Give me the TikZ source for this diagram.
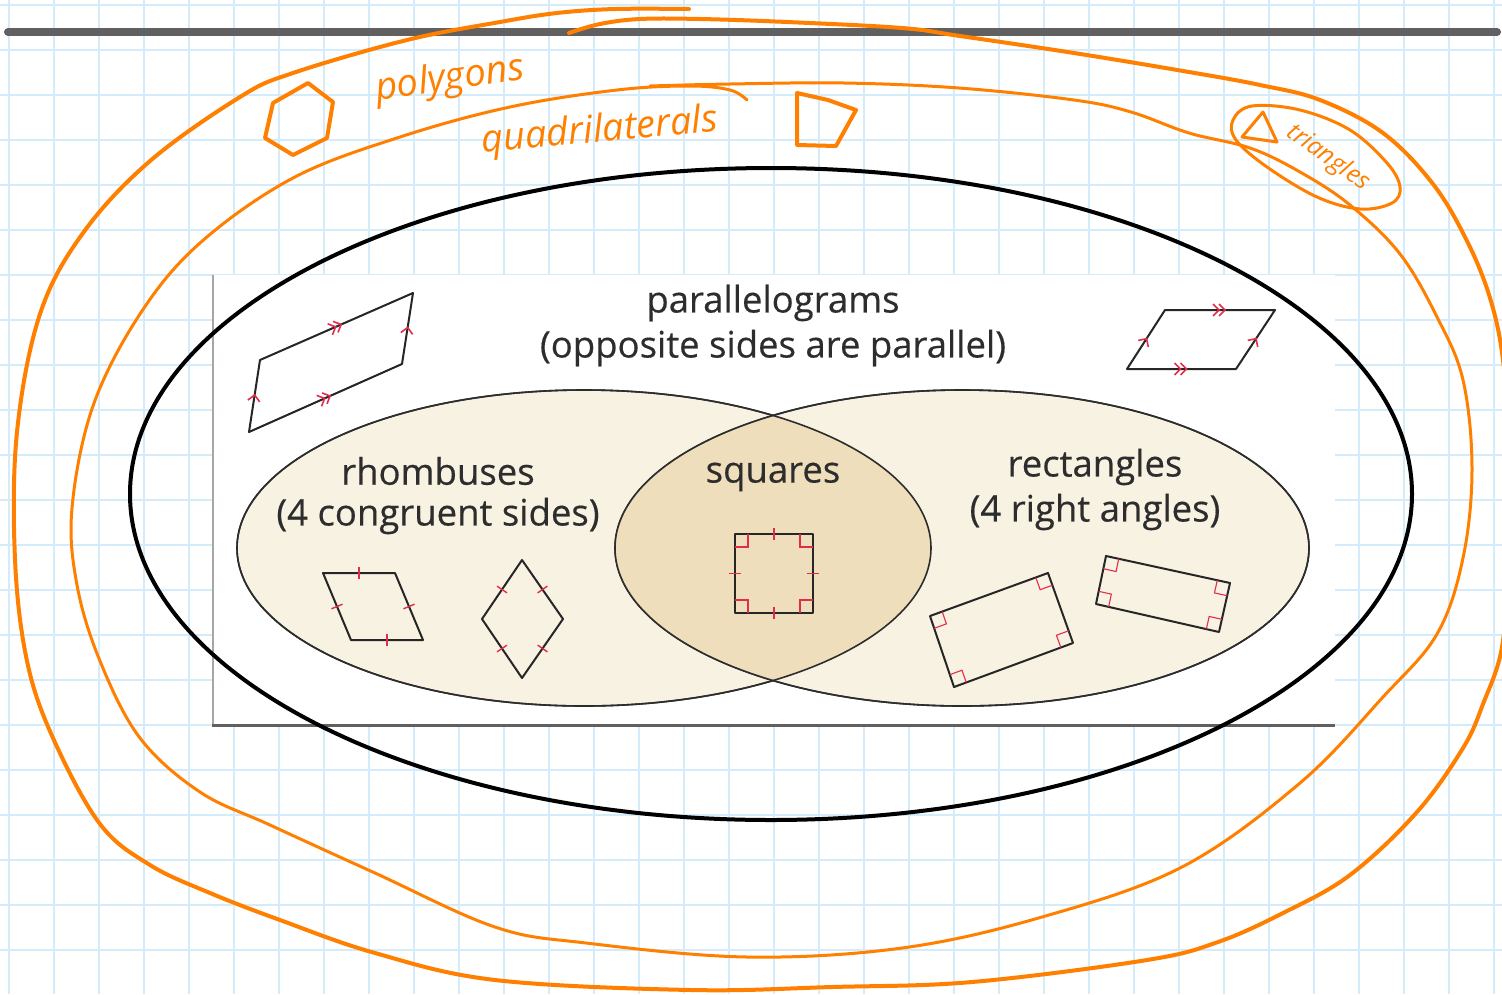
\documentclass[tikz,border=0pt]{standalone}
\usepackage{fontspec}
\setmainfont{Open Sans}
\newfontfamily\vennfont{Open Sans}[FakeBold=0.35]
\usepackage{tikz}
\usetikzlibrary{shapes.geometric,calc,decorations.markings}
\definecolor{gridblue}{RGB}{212,235,250}
\definecolor{penorange}{RGB}{255,128,0}
\definecolor{barcolor}{RGB}{96,96,96}
\definecolor{vennbeige}{RGB}{248,242,227}
\definecolor{lensbeige}{RGB}{239,222,188}
\definecolor{vennedge}{RGB}{45,45,45}
\definecolor{textgray}{RGB}{45,45,45}
\definecolor{markred}{RGB}{225,45,75}
\newcommand{\cornermark}[3]{\draw[anglemark] ($(#1)!13pt!(#2)$) -- ($(#1)!13pt!(#2)+(#1)!13pt!(#3)-(#1)$) -- ($(#1)!13pt!(#3)$);}

\begin{document}
\begin{tikzpicture}[x=1pt, y=-1pt,
  gridline/.style={gridblue, line width=1.2},
  pen/.style={penorange, line width=4, line cap=round, line join=round},
  thinpen/.style={pen, line width=3},
  vennset/.style={ellipse, draw=vennedge, line width=1.6, fill=vennbeige, minimum width=694, minimum height=316, inner sep=0},
  bigset/.style={ellipse, draw=black, line width=4, minimum width=1282, minimum height=652, inner sep=0},
  venntext/.style={text=textgray, font=\vennfont\fontsize{36.5}{40}\selectfont, inner sep=0},
  handtext/.style={text=penorange, font=\itshape\fontsize{38}{40}\selectfont, inner sep=0},
  figline/.style={draw=black!85, line width=2, line join=round, line cap=round},
  anglemark/.style={markred, line width=1.1},
  tickone/.style={postaction={decorate, decoration={markings, mark=at position 0.5 with {\draw[markred, line width=1.4] (0,-6) -- (0,6);}}}},
  arrowone/.style={postaction={decorate, decoration={markings, mark=at position 0.5 with {\draw[markred, line width=1.6] (-5,-6) -- (1,0) -- (-5,6);}}}},
  arrowtwo/.style={postaction={decorate, decoration={markings, mark=at position 0.5 with {\draw[markred, line width=1.6] (-7,-6) -- (-1,0) -- (-7,6) (-1,-6) -- (5,0) -- (-1,6);}}}}]

  % Paper
  \fill[white] (0,0) rectangle (1502,994);
  \useasboundingbox (0,0) rectangle (1502,994);
  \foreach \gx in {9,54,...,1500} \draw[gridline] (\gx,0) -- (\gx,994);
  \foreach \gy in {5,50,...,994} \draw[gridline] (0,\gy) -- (1502,\gy);
  \draw[barcolor, line width=8, line cap=round] (8,32) -- (1497,32);

  % Textbook figure
  \fill[white] (213,275) rectangle (1335,725);
  \draw[gray!70, line width=2] (213,275) -- (213,725);
  \draw[barcolor, line width=3] (212,725) -- (1335,725);

  % Venn sets
  \node[vennset] (rhombi) at (584,548) {};
  \node[vennset] (rects) at (962,548) {};
  \begin{scope}
    \clip (rhombi.center) ellipse [x radius=347, y radius=158];
    \fill[lensbeige] (rects.center) ellipse [x radius=347, y radius=158];
  \end{scope}
  \draw[vennedge, line width=1.6] (rhombi.center) ellipse [x radius=347, y radius=158];
  \draw[vennedge, line width=1.6] (rects.center) ellipse [x radius=347, y radius=158];

  % Labels
  \node[venntext] (paralabel) at (773,303) {parallelograms};
  \node[venntext] (paranote) at (773,348) {(opposite sides are parallel)};
  \node[venntext] (rhomblabel) at (438,471) {rhombuses};
  \node[venntext] (rhombnote) at (438,516) {(4 congruent sides)};
  \node[venntext] (squarelabel) at (773,477) {squares};
  \node[venntext] (rectlabel) at (1095,467) {rectangles};
  \node[venntext] (rectnote) at (1095,512) {(4 right angles)};

  % Parallelograms
  \coordinate (pl1) at (260,360);
  \coordinate (pl2) at (413,293);
  \coordinate (pl3) at (402,364);
  \coordinate (pl4) at (249,432);
  \draw[figline] (pl1) -- (pl2) -- (pl3) -- (pl4) -- cycle;
  \path[arrowtwo] (pl1) -- (pl2);
  \path[arrowtwo] (pl4) -- (pl3);
  \path[arrowone] (pl4) -- (pl1);
  \path[arrowone] (pl3) -- (pl2);
  \coordinate (pr1) at (1165,310);
  \coordinate (pr2) at (1275,310);
  \coordinate (pr3) at (1236,369);
  \coordinate (pr4) at (1127,369);
  \draw[figline] (pr1) -- (pr2) -- (pr3) -- (pr4) -- cycle;
  \path[arrowtwo] (pr1) -- (pr2);
  \path[arrowtwo] (pr4) -- (pr3);
  \path[arrowone] (pr4) -- (pr1);
  \path[arrowone] (pr3) -- (pr2);

  % Rhombuses
  \coordinate (ra1) at (323,573);
  \coordinate (ra2) at (395,573);
  \coordinate (ra3) at (423,640);
  \coordinate (ra4) at (351,640);
  \draw[figline] (ra1) -- (ra2) -- (ra3) -- (ra4) -- cycle;
  \path[tickone] (ra1) -- (ra2);
  \path[tickone] (ra2) -- (ra3);
  \path[tickone] (ra3) -- (ra4);
  \path[tickone] (ra4) -- (ra1);
  \coordinate (rb1) at (522,560);
  \coordinate (rb2) at (563,619);
  \coordinate (rb3) at (522,678);
  \coordinate (rb4) at (482,619);
  \draw[figline] (rb1) -- (rb2) -- (rb3) -- (rb4) -- cycle;
  \path[tickone] (rb1) -- (rb2);
  \path[tickone] (rb2) -- (rb3);
  \path[tickone] (rb3) -- (rb4);
  \path[tickone] (rb4) -- (rb1);

  % Square
  \coordinate (sq1) at (735,534);
  \coordinate (sq2) at (813,534);
  \coordinate (sq3) at (813,613);
  \coordinate (sq4) at (735,613);
  \draw[figline] (sq1) -- (sq2) -- (sq3) -- (sq4) -- cycle;
  \path[tickone] (sq1) -- (sq2);
  \path[tickone] (sq2) -- (sq3);
  \path[tickone] (sq3) -- (sq4);
  \path[tickone] (sq4) -- (sq1);
  \cornermark{sq1}{sq2}{sq4}
  \cornermark{sq2}{sq3}{sq1}
  \cornermark{sq3}{sq4}{sq2}
  \cornermark{sq4}{sq1}{sq3}

  % Rectangles
  \coordinate (ta1) at (930,616);
  \coordinate (ta2) at (1048,573);
  \coordinate (ta3) at (1073,643);
  \coordinate (ta4) at (954,687);
  \draw[figline] (ta1) -- (ta2) -- (ta3) -- (ta4) -- cycle;
  \cornermark{ta1}{ta2}{ta4}
  \cornermark{ta2}{ta3}{ta1}
  \cornermark{ta3}{ta4}{ta2}
  \cornermark{ta4}{ta1}{ta3}
  \coordinate (tb1) at (1106,556);
  \coordinate (tb2) at (1230,583);
  \coordinate (tb3) at (1219,632);
  \coordinate (tb4) at (1096,604);
  \draw[figline] (tb1) -- (tb2) -- (tb3) -- (tb4) -- cycle;
  \cornermark{tb1}{tb2}{tb4}
  \cornermark{tb2}{tb3}{tb1}
  \cornermark{tb3}{tb4}{tb2}
  \cornermark{tb4}{tb1}{tb3}

  % Hand drawn sets
  \node[bigset] (paraset) at (771,494) {};
  \draw[pen] plot[smooth, tension=0.6] coordinates {(569,33) (600,24) (640,19) (700,19) (787,22) (902,28) (960,36) (1074,53) (1189,72) (1260,85) (1320,100) (1383,133) (1433,184) (1467,241) (1490,298) (1503,360) (1509,450) (1508,560) (1502,647) (1483,704) (1463,748) (1417,812) (1350,875) (1283,913) (1218,942) (1147,960) (972,982) (832,987) (691,990) (495,980) (375,953) (280,920) (210,893) (150,865) (100,824) (53,738) (27,661) (15,559) (17,432) (40,314) (83,233) (150,161) (240,97) (293,73) (407,40) (500,22) (557,13) (615,9) (689,9)};
  \draw[thinpen] plot[smooth, tension=0.6] coordinates {(747,100) (730,90) (690,86) (617,90) (510,107) (400,137) (293,178) (200,243) (140,314) (93,406) (72,508) (77,585) (100,661) (140,738) (200,792) (270,825) (375,873) (495,927) (586,943) (747,957) (902,948) (1042,917) (1182,867) (1300,783) (1383,697) (1437,634) (1463,558) (1472,469) (1463,380) (1437,317) (1400,254) (1350,205) (1300,172) (1250,148) (1189,133) (1131,112) (1074,100) (959,88) (844,83) (730,84) (650,86)};
  \draw[thinpen] plot[smooth cycle, tension=0.6] coordinates {(1233,120) (1252,106) (1300,110) (1350,130) (1387,163) (1400,187) (1392,203) (1360,209) (1317,197) (1267,167) (1236,140)};

  % Sketches and names
  \draw[pen] (308,83) -- (333,102) -- (327,138) -- (293,155) -- (265,138) -- (273,103) -- cycle;
  \draw[pen] (797,93) -- (797,145) -- (836,146) -- (856,110) -- (828,100) -- cycle;
  \draw[thinpen] (1263,112) -- (1242,137) -- (1277,142) -- cycle;
  \node[handtext, rotate=8] (polylabel) at (450,80) {polygons};
  \node[handtext, rotate=5] (quadlabel) at (600,132) {quadrilaterals};
  \node[handtext, rotate=-36, font=\itshape\fontsize{25}{27}\selectfont] (trilabel) at (1328,158) {triangles};
\end{tikzpicture}
\end{document}
